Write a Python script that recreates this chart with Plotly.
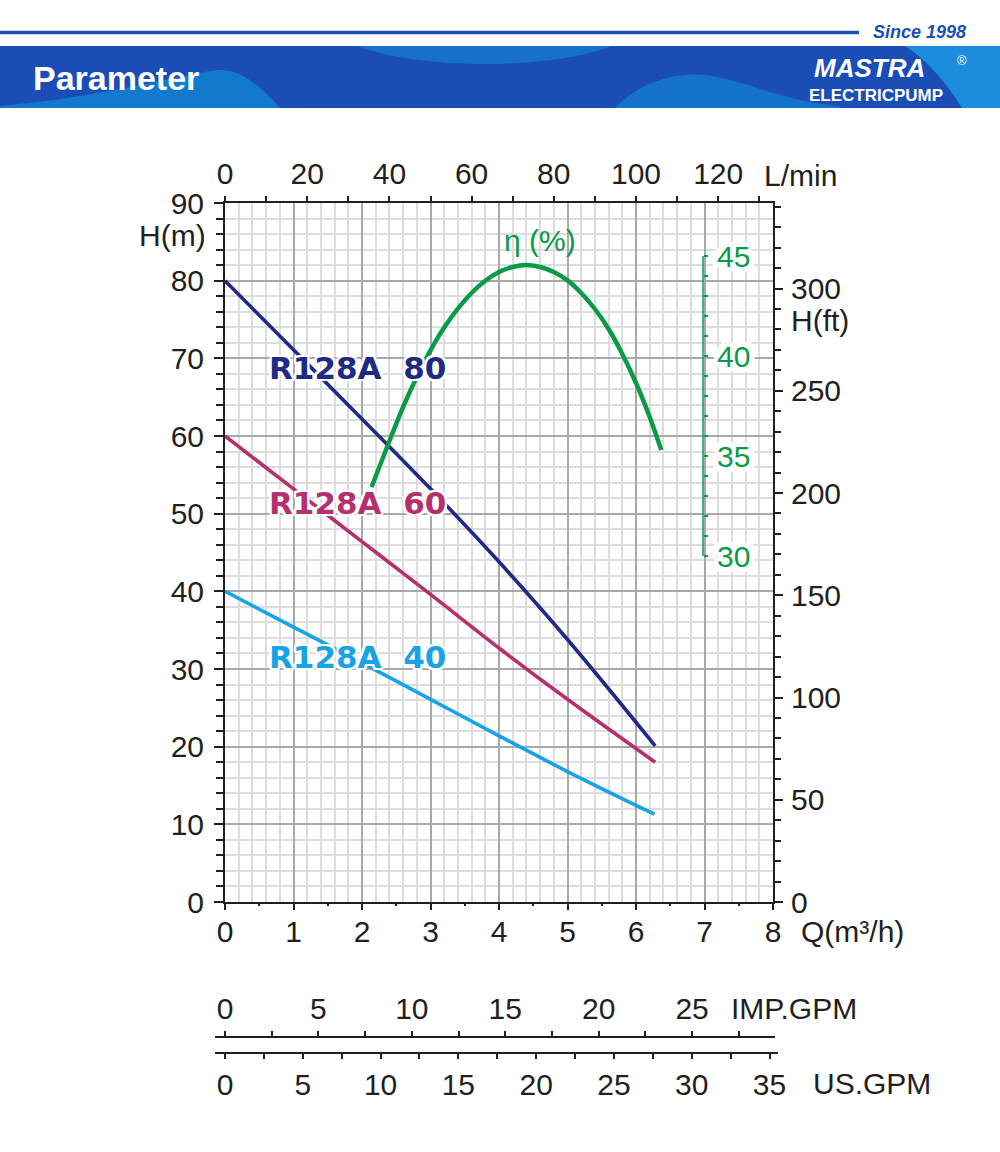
import plotly.graph_objects as go

W, H = 1000, 1152


def X(px):
    return px / W


def Y(py):
    return 1 - py / H


# ---------------- data ----------------
q_80 = [0, 1, 2, 3, 4, 5, 6.28]
h_80 = [80, 71.1, 62.2, 53.2, 43.8, 33.8, 20.1]
q_60 = [0, 1, 2, 3, 4, 5, 6.28]
h_60 = [60, 53.2, 46.4, 39.6, 32.7, 26.1, 18.0]
q_40 = [0, 1, 2, 3, 4, 5, 6.27]
h_40 = [40, 35.4, 30.8, 26.1, 21.4, 16.8, 11.3]
q_eff = [2.14, 2.4, 2.6, 2.8, 3.0, 3.2, 3.4, 3.6, 3.8, 4.0, 4.2, 4.4, 4.6, 4.8,
         5.0, 5.2, 5.4, 5.6, 5.8, 6.0, 6.2, 6.37]
eff = [33.45, 35.75, 37.45, 38.95, 40.28, 41.42, 42.37, 43.15, 43.76, 44.2, 44.45, 44.55,
       44.45, 44.2, 43.78, 43.15, 42.35, 41.35, 40.1, 38.65, 36.95, 35.3]

series_names = ["R128A  80", "R128A  60", "R128A  40"]
eff_ticks = [30, 35, 40, 45]

# unit conversions for the secondary flow scales
M3H_PER_LMIN = 60 / 1000
M3H_PER_IMPGPM = 4.54609 * 60 / 1000
M3H_PER_USGPM = 3.785411784 * 60 / 1000

# ---------------- styling ----------------
INK = "#231f20"
NAVY = "#1f2a86"
MAGENTA = "#b5306f"
SKY = "#17a3e6"
GREEN = "#0a9a48"
FONT = "Liberation Sans, Arial, sans-serif"
LABEL_FONT = "DejaVu Sans, sans-serif"


def halo(r):
    offs = [(-r, -r), (r, -r), (-r, r), (r, r), (0, -r), (0, r), (-r, 0), (r, 0)]
    return ", ".join(f"{a}px {b}px 0 #fff" for a, b in offs)


HALO = halo(2)
HALO_TICK = halo(3) + ", " + halo(5)

# geometry of the main plot in pixels
PX_L, PX_R, PX_T, PX_B = 225, 773, 203, 902
Q_MAX = 8
H_MAX = 90
px_per_q = (PX_R - PX_L) / Q_MAX
# efficiency scale: 30 % at y=556 px, 45 % at y=256 px
EFF_PX_30, EFF_PX_45 = 556, 256
px_per_eff = (EFF_PX_30 - EFF_PX_45) / 15
eff_range = [30 - (PX_B - EFF_PX_30) / px_per_eff, 45 + (EFF_PX_45 - PX_T) / px_per_eff]

fig = go.Figure()

for q, h, c in [(q_80, h_80, NAVY), (q_60, h_60, MAGENTA), (q_40, h_40, SKY)]:
    fig.add_trace(go.Scatter(x=q, y=h, mode="lines", xaxis="x", yaxis="y",
                             line=dict(color=c, width=3.6, shape="spline", smoothing=1),
                             hoverinfo="skip", showlegend=False))

fig.add_trace(go.Scatter(x=q_eff, y=eff, mode="lines", xaxis="x", yaxis="y3",
                         line=dict(color=GREEN, width=4.5, shape="spline", smoothing=0.5),
                         hoverinfo="skip", showlegend=False))

# placeholder traces so that every scale axis is rendered
for xa, ya in [("x2", "y"), ("x", "y2"), ("x5", "y"), ("x3", "y4"), ("x4", "y4")]:
    fig.add_trace(go.Scatter(x=[None], y=[None], mode="lines", xaxis=xa, yaxis=ya,
                             hoverinfo="skip", showlegend=False))

tickfont = dict(family=FONT, size=30, color=INK)


def free_range(px0, px1, per_unit):
    return [(px0 - PX_L) / px_per_q / per_unit, (px1 - PX_L) / px_per_q / per_unit]


fig.update_layout(
    width=W, height=H,
    margin=dict(l=0, r=0, t=0, b=0, pad=0, autoexpand=False),
    paper_bgcolor="white", plot_bgcolor="rgba(0,0,0,0)",
    showlegend=False,
    font=dict(family=FONT, size=30, color=INK),
    xaxis=dict(domain=[X(PX_L), X(PX_R)], range=[0, Q_MAX], tick0=0, dtick=1,
               ticks="outside", ticklen=6, tickwidth=2, tickcolor=INK,
               showline=True, linecolor=INK, linewidth=2,
               showgrid=True, gridcolor="#a9a9a9", gridwidth=1.5, zeroline=False,
               minor=dict(tick0=0, dtick=0.2, showgrid=True, gridcolor="#dddddd",
                          gridwidth=1.5, ticks=""),
               tickfont=tickfont, ticklabelstandoff=-4,
               anchor="y", fixedrange=True, automargin=False),
    xaxis5=dict(overlaying="x", side="bottom", anchor="y", range=[0, Q_MAX],
                tickvals=[i + 0.5 for i in range(Q_MAX)], ticks="outside", ticklen=3,
                tickwidth=2, tickcolor=INK, showticklabels=False, showline=False,
                showgrid=False, zeroline=False, fixedrange=True, automargin=False),
    yaxis=dict(domain=[Y(PX_B), Y(PX_T)], range=[0, H_MAX], tick0=0, dtick=10,
               ticks="outside", ticklen=9, tickwidth=2, tickcolor=INK,
               showline=True, linecolor=INK, linewidth=2,
               showgrid=True, gridcolor="#a9a9a9", gridwidth=1.5, zeroline=False,
               minor=dict(tick0=0, dtick=2, showgrid=True, gridcolor="#dddddd",
                          gridwidth=1.5, ticks="outside", ticklen=7, tickwidth=2,
                          tickcolor=INK),
               tickfont=tickfont, ticklabelstandoff=4,
               anchor="x", fixedrange=True, automargin=False),
    xaxis2=dict(overlaying="x", side="top", anchor="y",
                range=[0, Q_MAX / M3H_PER_LMIN], tick0=0, dtick=20,
                ticks="outside", ticklen=5, tickwidth=2, tickcolor=INK,
                minor=dict(tick0=0, dtick=10, ticks="outside", ticklen=5, tickwidth=2,
                           tickcolor=INK),
                showline=True, linecolor=INK, linewidth=2, showgrid=False,
                zeroline=False, tickfont=tickfont, fixedrange=True, automargin=False),
    yaxis2=dict(overlaying="y", side="right", anchor="x",
                range=[0, (PX_B - PX_T) / 2.045], tick0=0, dtick=50,
                ticks="outside", ticklen=8, tickwidth=2, tickcolor=INK,
                minor=dict(tick0=0, dtick=10, ticks="outside", ticklen=6, tickwidth=2,
                           tickcolor=INK),
                showline=True, linecolor=INK, linewidth=2, showgrid=False,
                zeroline=False, tickfont=tickfont, ticklabelstandoff=2,
                fixedrange=True, automargin=False),
    yaxis3=dict(overlaying="y", anchor="free", position=X(703), side="right",
                range=eff_range, tickvals=eff_ticks,
                ticks="outside", ticklen=4, tickwidth=1.5, tickcolor=GREEN,
                minor=dict(tickvals=list(range(30, 46)), ticks="outside", ticklen=4,
                           tickwidth=1.5, tickcolor=GREEN),
                showline=False, showgrid=False, zeroline=False,
                tickfont=dict(family=FONT, size=30, color=GREEN, shadow=HALO_TICK),
                ticklabelstandoff=3, fixedrange=True, automargin=False),
    # hidden vertical scale for the two flow-conversion rulers below the chart
    yaxis4=dict(domain=[Y(1060), Y(1030)], range=[0, 1], visible=False,
                showgrid=False, zeroline=False, fixedrange=True, automargin=False),
    xaxis3=dict(anchor="free", position=Y(1037), side="top",
                domain=[X(215), X(775)], range=free_range(215, 775, M3H_PER_IMPGPM),
                tick0=0, dtick=5, ticks="outside", ticklen=5, tickwidth=2, tickcolor=INK,
                minor=dict(tick0=0, dtick=2.5, ticks="outside", ticklen=5, tickwidth=2,
                           tickcolor=INK),
                showline=True, linecolor=INK, linewidth=2, showgrid=False,
                zeroline=False, tickfont=tickfont, fixedrange=True, automargin=False),
    xaxis4=dict(anchor="free", position=Y(1053), side="bottom",
                domain=[X(215), X(778)], range=free_range(215, 778, M3H_PER_USGPM),
                tick0=0, dtick=5, ticks="outside", ticklen=5, tickwidth=2, tickcolor=INK,
                minor=dict(tick0=0, dtick=2.5, ticks="outside", ticklen=5, tickwidth=2,
                           tickcolor=INK),
                showline=True, linecolor=INK, linewidth=2, showgrid=False,
                zeroline=False, tickfont=tickfont, fixedrange=True, automargin=False),
)


def path(cmds):
    out = []
    for c in cmds:
        if isinstance(c, str):
            out.append(c)
        else:
            out.append(f"{X(c[0]):.5f},{Y(c[1]):.5f}")
    return " ".join(out)


shapes = [
    dict(type="line", xref="paper", yref="paper", x0=X(0), x1=X(859), y0=Y(32.5), y1=Y(32.5),
         line=dict(color="#1b4fb0", width=3.5)),
    dict(type="rect", xref="paper", yref="paper", x0=X(0), x1=X(1000), y0=Y(108), y1=Y(46),
         fillcolor="#1a4db5", line=dict(width=0)),
    dict(type="path", xref="paper", yref="paper", fillcolor="#1379cd", line=dict(width=0),
         path=path(["M", (0, 108), "L", (0, 106), "C", (90, 98), (170, 78), (210, 71),
                    "C", (235, 66), (255, 80), (280, 108), "Z"])),
    dict(type="path", xref="paper", yref="paper", fillcolor="#1670cc", line=dict(width=0),
         path=path(["M", (357, 46), "C", (420, 70), (550, 70), (612, 46), "Z"])),
    dict(type="path", xref="paper", yref="paper", fillcolor="#1673cd", line=dict(width=0),
         path=path(["M", (615, 108), "C", (640, 82), (675, 72), (705, 75),
                    "C", (745, 80), (785, 102), (840, 106), "L", (840, 108), "Z"])),
    dict(type="path", xref="paper", yref="paper", fillcolor="#1c8cdc", line=dict(width=0),
         path=path(["M", (905, 46), "L", (1000, 46), "L", (1000, 108), "L", (962, 108),
                    "C", (950, 88), (930, 62), (905, 46), "Z"])),
    # green efficiency axis line, drawn on the efficiency scale from 30 % to 45 %
    dict(type="line", xref="paper", yref="y3", x0=X(703), x1=X(703),
         y0=eff_ticks[0], y1=eff_ticks[-1], line=dict(color=GREEN, width=1.5)),
]
fig.update_layout(shapes=shapes)

ann = []


def text(x, y, s, size=30, color=INK, xanchor="left", family=FONT, **kw):
    ann.append(dict(xref="paper", yref="paper", x=X(x), y=Y(y), text=s, showarrow=False,
                    xanchor=xanchor, yanchor="middle",
                    font=dict(family=family, size=size, color=color, **kw)))


# axis titles
text(137, 235, "H(m)")
text(789, 321, "H(ft)")
text(762, 175, "L/min")
text(799, 931, "Q(m³/h)")
text(729, 1008, "IMP.GPM")
text(811, 1083, "US.GPM")

# header
text(31, 78, "Parameter", size=34, color="white", weight="bold")
text(871, 32, "Since 1998", size=18, color="#1b4fb0", weight="bold", style="italic")
text(812, 68, "MASTRA", size=26, color="white", weight="bold", style="italic")
text(955, 60, "®", size=13, color="white")
text(807, 95, "ELECTRICPUMP", size=17, color="white", weight="bold")

fig.update_layout(annotations=ann)

# series labels (data coordinates)
label_pos = [(1.94, 68.7), (1.94, 51.4), (1.94, 31.5)]
for name, (qx, hy), c in zip(series_names, label_pos, [NAVY, MAGENTA, SKY]):
    fig.add_annotation(x=qx, y=hy, xref="x", yref="y", text=name, showarrow=False,
                       xanchor="center", yanchor="middle",
                       font=dict(family=LABEL_FONT, size=31, color=c, weight="bold",
                                 shadow=HALO))

fig.add_annotation(x=(540 - PX_L) / px_per_q, y=45.8, xref="x", yref="y3", text="η (%)",
                   showarrow=False, xanchor="center", yanchor="middle",
                   font=dict(family=FONT, size=30, color=GREEN))

fig.write_html("out.html", config={"displayModeBar": False},
               post_script="document.body.style.margin='0';document.body.style.padding='0';")
